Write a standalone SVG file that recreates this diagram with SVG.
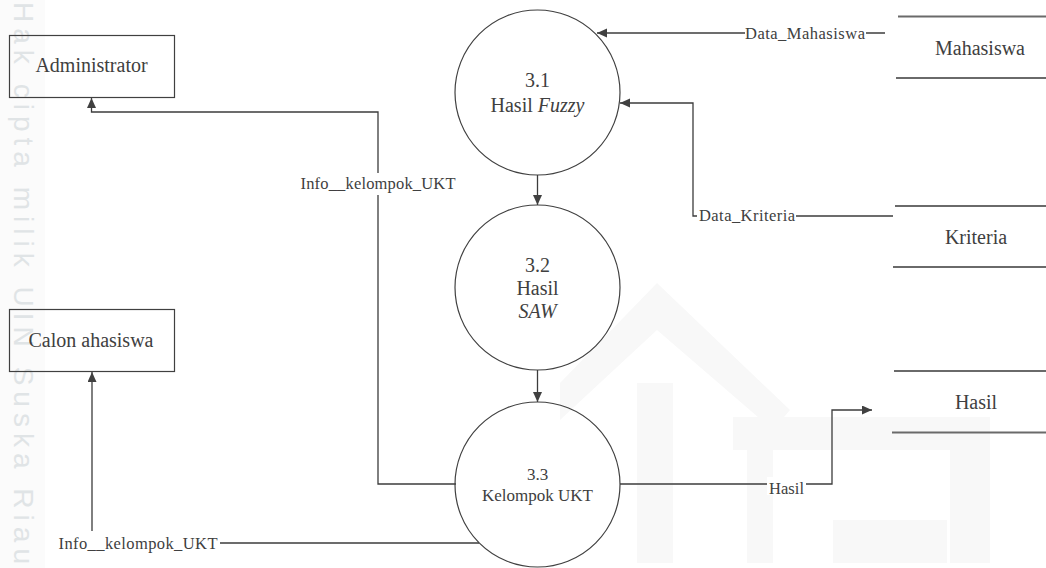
<svg xmlns="http://www.w3.org/2000/svg" width="1046" height="568" viewBox="0 0 1046 568">
<style>
  text { fill: #404040; font-family: "Liberation Serif", "Times New Roman", serif; }
  .nt { font-size: 20px; text-anchor: middle; }
  .nt17 { font-size: 17px; text-anchor: middle; }
  .lbl { font-size: 16.5px; text-anchor: middle; }
  .box { fill: none; stroke: #404040; stroke-width: 1.2; }
  .proc { fill: none; stroke: #404040; stroke-width: 1.2; }
  .store { stroke: #6a6a6a; stroke-width: 2; fill: none; }
  .ln { fill: none; stroke: #3c3c3c; stroke-width: 1.3; }
  .bg { fill: #ffffff; }
  .wm { fill: #f8f8f8; }
  .wmt { font-family: "Liberation Sans", Arial, sans-serif; font-size: 28px; fill: #e0e4e6; }
</style>
<defs>
  <marker id="arr" markerUnits="userSpaceOnUse" markerWidth="11" markerHeight="10" refX="10" refY="4.5" orient="auto">
    <path d="M0,0 L10,4.5 L0,9 z" fill="#404040"/>
  </marker>
</defs>
<rect width="1046" height="568" fill="#ffffff"/>
<g id="watermark">
  <rect x="0" y="0" width="45" height="568" fill="#fbfbfb"/>
  <polygon class="wm" points="657,283 560,383 560,420 657,330 773,430 790,410"/>
  <rect class="wm" x="637" y="383" width="36" height="180"/>
  <rect class="wm" x="733" y="417" width="257" height="33"/>
  <rect class="wm" x="747" y="450" width="26" height="113"/>
  <rect class="wm" x="833" y="520" width="114" height="43"/>
  <rect class="wm" x="950" y="423" width="40" height="140"/>
  <text class="wmt" transform="translate(14,2) rotate(90)" textLength="562" lengthAdjust="spacing">Hak cipta milik UIN Suska Riau</text>
</g>
<g id="connectors">
  <path class="ln" d="M885,33 H597" marker-end="url(#arr)"/>
  <path class="ln" d="M893,216 H693 V103 H620" marker-end="url(#arr)"/>
  <path class="ln" d="M537.5,175 V205" marker-end="url(#arr)"/>
  <path class="ln" d="M537.5,370 V402" marker-end="url(#arr)"/>
  <path class="ln" d="M620,484 H832 V410 H872" marker-end="url(#arr)"/>
  <path class="ln" d="M456,484 H378 V112 H91.5 V98" marker-end="url(#arr)"/>
  <path class="ln" d="M479,543 H92 V372" marker-end="url(#arr)"/>
  <g id="labels">
    <rect class="bg" x="745" y="26" width="121" height="15"/>
    <text class="lbl" x="805" y="38.5" textLength="120" lengthAdjust="spacing">Data_Mahasiswa</text>
    <rect class="bg" x="697" y="209" width="99" height="14"/>
    <text class="lbl" x="747" y="221" textLength="96" lengthAdjust="spacing">Data_Kriteria</text>
    <rect class="bg" x="767" y="477" width="39" height="18"/>
    <text class="lbl" x="786.5" y="494" textLength="35" lengthAdjust="spacing">Hasil</text>
    <rect class="bg" x="299" y="173" width="158" height="22"/>
    <text class="lbl" x="378" y="189" textLength="155" lengthAdjust="spacing">Info__kelompok_UKT</text>
    <rect class="bg" x="55" y="531" width="165" height="22"/>
    <text class="lbl" x="138" y="549" textLength="159" lengthAdjust="spacing">Info__kelompok_UKT</text>
  </g>
</g>
<g id="administrator">
  <rect class="box" x="9.5" y="35.5" width="165" height="62"/>
  <text class="nt" x="91.5" y="72">Administrator</text>
</g>
<g id="calon-mahasiswa">
  <rect class="box" x="9.5" y="309.5" width="165" height="62"/>
  <text class="nt" x="91" y="347">Calon ahasiswa</text>
</g>
<g id="p3-1">
  <circle class="proc" cx="537.5" cy="92.5" r="82.5"/>
  <text class="nt" x="537.5" y="87">3.1</text>
  <text class="nt" x="537.5" y="112">Hasil <tspan font-style="italic">Fuzzy</tspan></text>
</g>
<g id="p3-2">
  <circle class="proc" cx="537.5" cy="287.5" r="82.5"/>
  <text class="nt" x="537.5" y="272">3.2</text>
  <text class="nt" x="537.5" y="295">Hasil</text>
  <text class="nt" x="537.5" y="318" font-style="italic">SAW</text>
</g>
<g id="p3-3">
  <circle class="proc" cx="537.5" cy="484.5" r="82.5"/>
  <text class="nt17" x="537.5" y="480">3.3</text>
  <text class="nt17" x="537.5" y="501">Kelompok UKT</text>
</g>
<g id="store-mahasiswa">
  <line class="store" x1="898" y1="16.5" x2="1046" y2="16.5"/>
  <line class="store" x1="896" y1="78" x2="1046" y2="78"/>
  <text class="nt" x="980" y="55">Mahasiswa</text>
</g>
<g id="store-kriteria">
  <line class="store" x1="895" y1="206" x2="1046" y2="206"/>
  <line class="store" x1="893" y1="267" x2="1046" y2="267"/>
  <text class="nt" x="976" y="244">Kriteria</text>
</g>
<g id="store-hasil">
  <line class="store" x1="894" y1="371" x2="1046" y2="371"/>
  <line class="store" x1="892" y1="432.5" x2="1046" y2="432.5"/>
  <text class="nt" x="976" y="409">Hasil</text>
</g>
</svg>
